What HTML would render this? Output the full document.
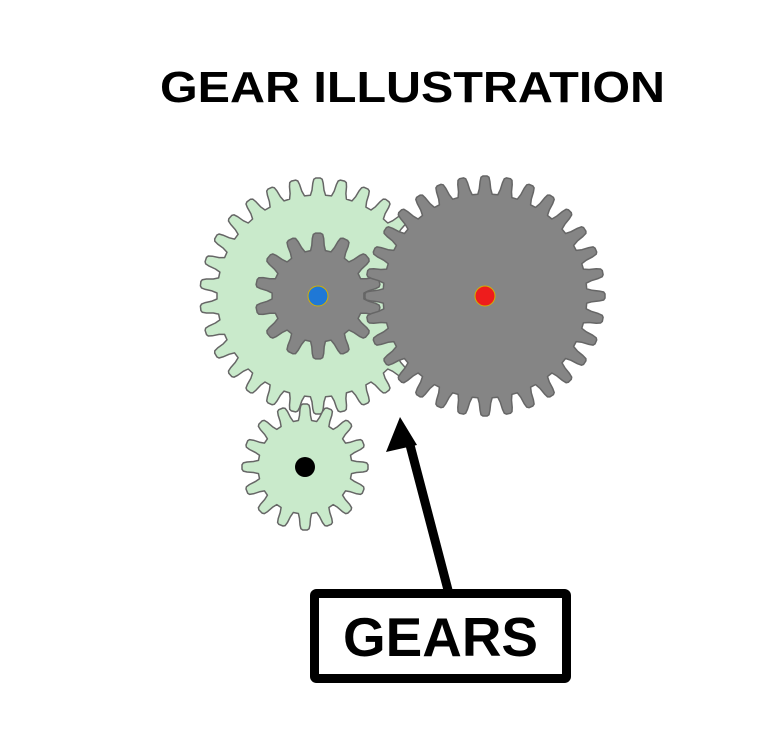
<!DOCTYPE html>
<html><head><meta charset="utf-8"><style>
html,body{margin:0;padding:0;background:#fff;width:780px;height:755px;overflow:hidden}
</style></head><body>
<svg id="s" width="780" height="755" viewBox="0 0 780 755" xmlns="http://www.w3.org/2000/svg">
<text x="160" y="102" font-family="Liberation Sans, sans-serif" font-weight="bold" font-size="44" textLength="505" lengthAdjust="spacingAndGlyphs">GEAR ILLUSTRATION</text>
<g id="gears"></g>
<circle cx="318" cy="296" r="10" fill="#1f78d6" stroke="#d4b000" stroke-width="1"/>
<circle cx="485" cy="296" r="10" fill="#ee1c1c" stroke="#d4b000" stroke-width="1"/>
<circle cx="305" cy="467" r="10" fill="#000"/>
<line x1="448" y1="590" x2="410" y2="445" stroke="#000" stroke-width="9"/>
<polygon points="400,417 386,452 417,445" fill="#000"/>
<rect x="314.5" y="593.5" width="252" height="85" fill="#fff" stroke="#000" stroke-width="9" rx="2"/>
<text x="343" y="656" font-family="Liberation Sans, sans-serif" font-weight="bold" font-size="55" textLength="195" lengthAdjust="spacingAndGlyphs">GEARS</text>
</svg>
<script>
function gear(cx,cy,ro,ri,n,fill,rot){
  var d="",step=2*Math.PI/n;
  var prof=[[0,-0.36],[0.3,-0.27],[0.7,-0.22],[0.93,-0.17],[1,-0.09],[1,0.09],[0.93,0.17],[0.7,0.22],[0.3,0.27],[0,0.36]];
  var first=true;
  for(var i=0;i<n;i++){
    var a=i*step+(rot||0);
    prof.forEach(function(p){
      var r=ri+(ro-ri)*p[0],an=a+step*p[1];
      var x=cx+r*Math.cos(an),y=cy+r*Math.sin(an);
      d+=(first?"M":"L")+x.toFixed(1)+","+y.toFixed(1);first=false;
    });
  }
  d+="Z";
  var p=document.createElementNS("http://www.w3.org/2000/svg","path");
  p.setAttribute("d",d);p.setAttribute("fill",fill);
  p.setAttribute("stroke","#666");p.setAttribute("stroke-width","1.5");
  p.setAttribute("stroke-linejoin","round");
  document.getElementById("gears").appendChild(p);
}
gear(318,296,118,101,30,"#c9eacb",-Math.PI/2);
gear(305,467,63,47,16,"#c9eacb",-Math.PI/2);
gear(318,296,63,46,14,"#858585",-Math.PI/2);
gear(485,296,120,102,32,"#858585",-Math.PI/2);
</script>
</body></html>
